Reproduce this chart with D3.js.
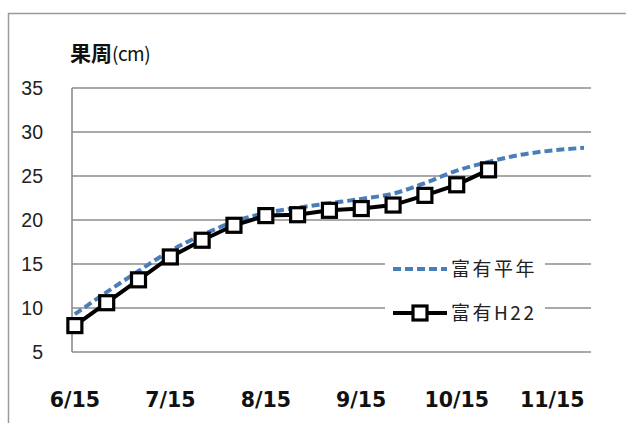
<!DOCTYPE html>
<html><head><meta charset="utf-8">
<script src="https://cdn.jsdelivr.net/npm/d3@7"></script>
<style>
html,body{margin:0;padding:0;background:#fff;}
svg{display:block;}
</style></head>
<body>
<svg id="chart" width="626" height="423"></svg>
<script>
// ---- data ----
const categories = ["6/15","6/25","7/5","7/15","7/25","8/5","8/15","8/25","9/5","9/15","9/25","10/5","10/15","10/25","11/5","11/15","11/25"];
const xTickLabels = ["6/15","7/15","8/15","9/15","10/15","11/15"];
const yTicks = [5,10,15,20,25,30,35];
const seriesNames = ["富有平年","富有H22"];
const heinen = [9.3,11.8,14.2,16.5,18.3,19.8,20.8,21.4,21.9,22.4,23.0,24.2,25.6,26.6,27.4,27.9,28.2];
const h22 = [8.0,10.6,13.2,15.8,17.7,19.4,20.5,20.6,21.1,21.3,21.7,22.8,24.0,25.7];
const yTitle = "果周(cm)";

// ---- layout ----
const svg = d3.select("#chart");
const L = 72, R = 591, T = 88, B = 352;
const x = d3.scaleLinear().domain([-0.09, categories.length - 1 + 0.22]).range([L, R]);
const y = d3.scaleLinear().domain([5, 35]).range([B, T]);
const grid = "#8c8c8c";

svg.append("rect").attr("width",626).attr("height",423).attr("fill","#fff");
// outer chart border
svg.append("rect").attr("x",8.5).attr("y",13.5).attr("width",700).attr("height",500)
  .attr("fill","none").attr("stroke","#9a9a9a").attr("stroke-width",1.5);

// gridlines
svg.append("g").selectAll("line").data(yTicks).join("line")
  .attr("x1",L).attr("x2",R).attr("y1",d=>y(d)).attr("y2",d=>y(d))
  .attr("stroke",grid).attr("stroke-width",1.6);
// y axis line
svg.append("line").attr("x1",L).attr("x2",L).attr("y1",T).attr("y2",B)
  .attr("stroke",grid).attr("stroke-width",1.6);

// y tick labels
svg.append("g").selectAll("text").data(yTicks).join("text")
  .attr("x",43).attr("y",d=>y(d)).attr("dy","0.36em").attr("text-anchor","end")
  .attr("font-family","Liberation Sans, Arial, sans-serif").attr("font-size",19.5)
  .attr("fill","#222").text(d=>d);

// x tick labels
svg.append("g").selectAll("text").data(xTickLabels).join("text")
  .attr("x",d=>x(categories.indexOf(d))).attr("y",407).attr("text-anchor","middle")
  .attr("font-family","DejaVu Sans, sans-serif").attr("font-weight","bold").attr("font-size",20.5)
  .attr("fill","#111").text(d=>d);

// title
const tt = svg.append("text").attr("x",70).attr("y",61)
  .attr("font-family","Noto Sans CJK JP, sans-serif").attr("fill","#111");
tt.append("tspan").attr("font-weight","bold").attr("font-size",21).text(yTitle.slice(0,2));
tt.append("tspan").attr("font-size",19).attr("letter-spacing",-0.5).text(yTitle.slice(2));

// lines
const line = d3.line().x((d,i)=>x(i)).y(d=>y(d));
svg.append("path").datum(heinen).attr("d",line.curve(d3.curveMonotoneX))
  .attr("fill","none").attr("stroke","#4a7ebb").attr("stroke-width",4)
  .attr("stroke-dasharray","8,4");
svg.append("path").datum(h22).attr("d",d3.line().x((d,i)=>x(i)).y(d=>y(d)))
  .attr("fill","none").attr("stroke","#000").attr("stroke-width",4);
svg.append("g").selectAll("rect").data(h22).join("rect")
  .attr("x",(d,i)=>x(i)-7).attr("y",d=>y(d)-7).attr("width",14).attr("height",14)
  .attr("fill","#fff").attr("stroke","#000").attr("stroke-width",3.2);

// legend
const lg = svg.append("g");
lg.append("rect").attr("x",385).attr("y",248).attr("width",160).attr("height",84).attr("fill","#fff");
const ly = [269, 313];
lg.append("line").attr("x1",393).attr("x2",447).attr("y1",ly[0]).attr("y2",ly[0])
  .attr("stroke","#4a7ebb").attr("stroke-width",4).attr("stroke-dasharray","8,4");
lg.append("line").attr("x1",393).attr("x2",447).attr("y1",ly[1]).attr("y2",ly[1])
  .attr("stroke","#000").attr("stroke-width",4);
lg.append("rect").attr("x",420-7).attr("y",ly[1]-7).attr("width",14).attr("height",14)
  .attr("fill","#fff").attr("stroke","#000").attr("stroke-width",3.2);
lg.selectAll("text.lt").data(seriesNames).join("text").attr("class","lt")
  .attr("x",451).attr("y",(d,i)=>ly[i]).attr("dy","0.36em")
  .attr("font-family","Noto Sans CJK JP, sans-serif").attr("font-size",19)
  .attr("letter-spacing",2.5).attr("fill","#222").text(d=>d);
</script>
</body></html>
